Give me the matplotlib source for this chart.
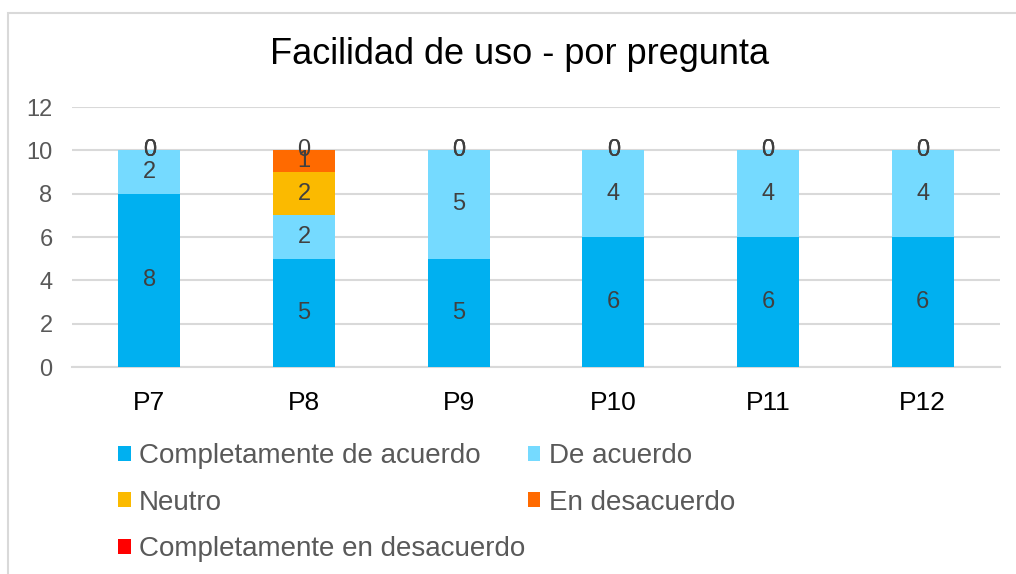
import matplotlib
matplotlib.use("Agg")
import matplotlib.pyplot as plt
from matplotlib.patches import Rectangle
import numpy as np

plt.rcParams['font.family'] = ['Liberation Sans', 'DejaVu Sans']

categories = ["P7", "P8", "P9", "P10", "P11", "P12"]
series_names = ["Completamente de acuerdo", "De acuerdo", "Neutro",
                "En desacuerdo", "Completamente en desacuerdo"]
comp_acuerdo = [8, 5, 5, 6, 6, 6]
de_acuerdo = [2, 2, 5, 4, 4, 4]
neutro = [0, 2, 0, 0, 0, 0]
en_desacuerdo = [0, 1, 0, 0, 0, 0]
comp_desacuerdo = [0, 0, 0, 0, 0, 0]
series_values = [comp_acuerdo, de_acuerdo, neutro, en_desacuerdo, comp_desacuerdo]
colors = ["#00B0F0", "#75DAFF", "#FBBA00", "#FF6A00", "#FF0000"]

W, H = 1016, 574
fig = plt.figure(figsize=(W / 100, H / 100), dpi=100)
# chart border
fig.patches.append(Rectangle((8 / W, -0.05), 1.2, 1 - 13 / H + 0.05,
                             transform=fig.transFigure, fill=False,
                             edgecolor="#D9D9D9", linewidth=1.5))

ax = fig.add_axes([72 / W, 1 - 367 / H, (1000 - 72) / W, (367 - 107) / H])
x = np.arange(len(categories))
bottom = np.zeros(len(categories))
handles = []
for name, vals, col in zip(series_names, series_values, colors):
    vals = np.array(vals, dtype=float)
    bars = ax.bar(x, vals, width=0.4, bottom=bottom, color=col, label=name, zorder=3)
    handles.append(bars)
    for xi, b, v in zip(x, bottom, vals):
        ax.text(xi, b + v / 2, f"{int(v)}", ha="center", va="center",
                fontsize=17, color="#404040", zorder=4)
    bottom += vals

ax.set_xlim(-0.5, len(categories) - 0.5)
ax.set_ylim(0, 12)
ax.set_yticks(range(0, 13, 2))
ax.yaxis.grid(True, color="#D9D9D9", linewidth=1.5, zorder=0)
ax.set_axisbelow(True)
for s in ["top", "right", "left"]:
    ax.spines[s].set_visible(False)
ax.spines["bottom"].set_color("#D9D9D9")
ax.spines["bottom"].set_linewidth(1.5)
ax.tick_params(axis="both", length=0)
ax.tick_params(axis="y", labelsize=17, labelcolor="#595959", pad=14)
ax.tick_params(axis="x", labelsize=19, labelcolor="#000000", pad=17)
ax.set_xticks(x)
ax.set_xticklabels(categories)

fig.text(520 / W, 1 - 54 / H, "Facilidad de uso - por pregunta", ha="center",
         va="center", fontsize=26, color="#000000")

order = [0, 2, 4, 1, 3]
leg = fig.legend([handles[i] for i in order], [series_names[i] for i in order],
                 ncol=2, loc="upper left", bbox_to_anchor=(93 / W, 1 - 418 / H),
                 frameon=False, fontsize=20, handlelength=0.45, handleheight=0.45,
                 handletextpad=0.3, columnspacing=0.1, labelspacing=0.74,
                 labelcolor="#595959")

fig.savefig("out.png", dpi=100, facecolor="white")
